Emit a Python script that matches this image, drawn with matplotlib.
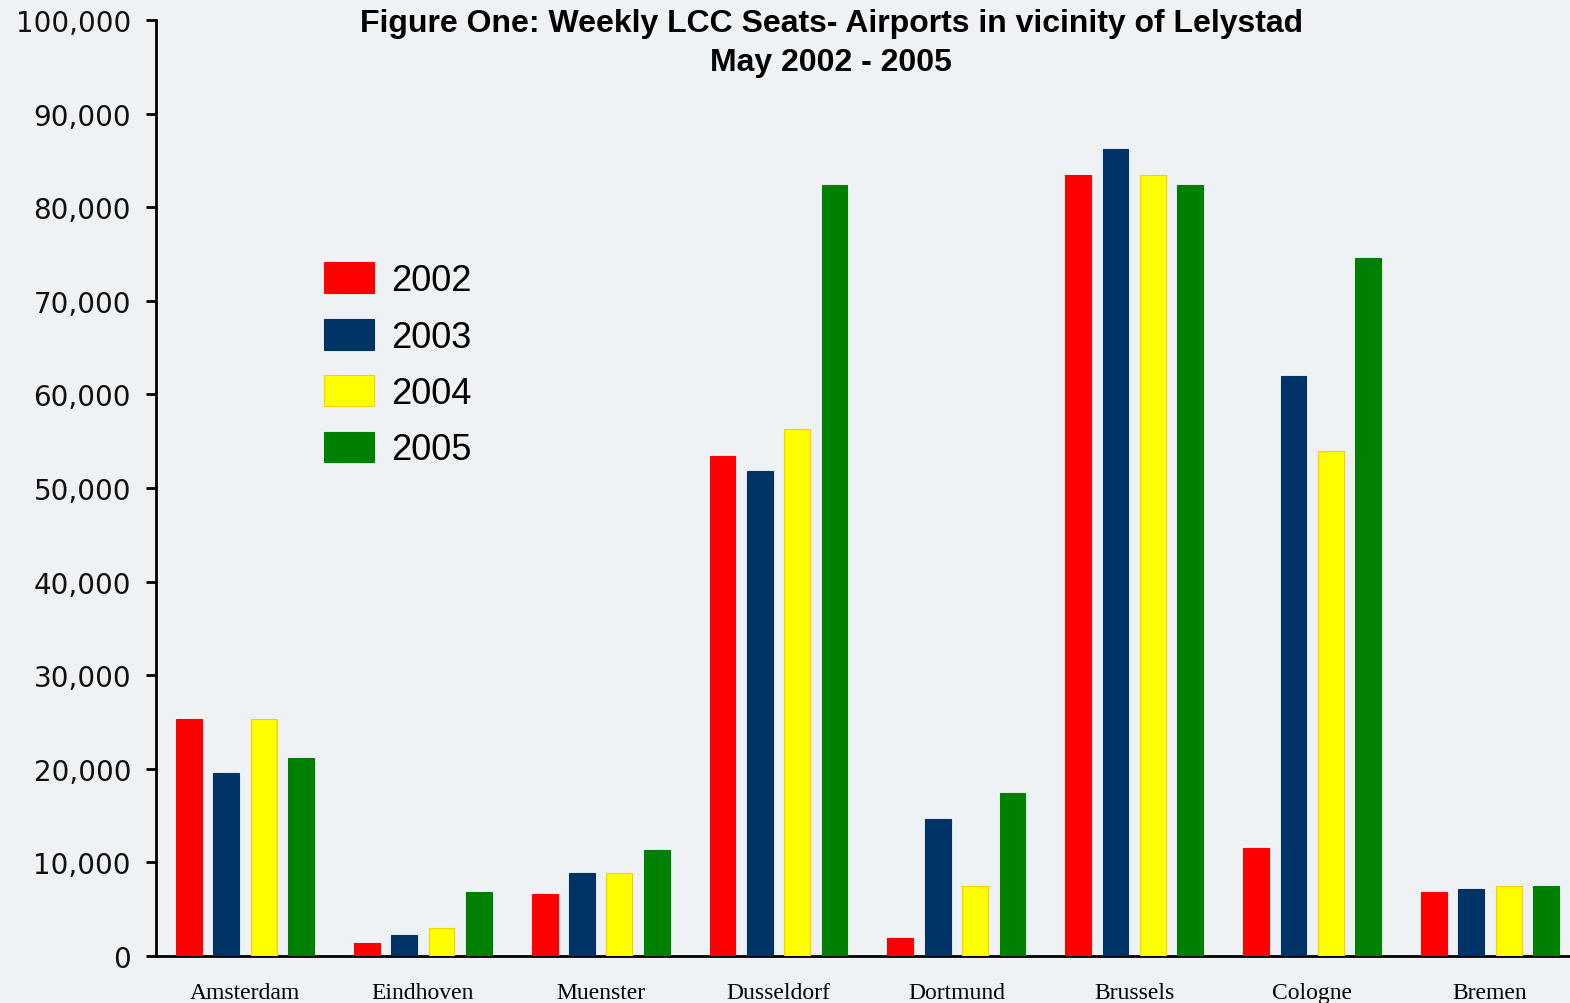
import numpy as np
import matplotlib
matplotlib.use("Agg")
from matplotlib import pyplot as plt
import matplotlib.ticker as ticker

# Weekly LCC seats, airports near Lelystad, May 2002-2005
airports = ["Amsterdam", "Eindhoven", "Muenster", "Dusseldorf",
            "Dortmund", "Brussels", "Cologne", "Bremen"]
years = ["2002", "2003", "2004", "2005"]

seats_2002 = [25300, 1400, 6600, 53400, 1900, 83400, 11500, 6800]
seats_2003 = [19500, 2200, 8900, 51800, 14600, 86200, 62000, 7200]
seats_2004 = [25300, 3000, 8900, 56300, 7500, 83400, 54000, 7500]
seats_2005 = [21200, 6800, 11300, 82400, 17400, 82400, 74600, 7500]

colors = ["#ff0000", "#003366", "#ffff00", "#008000"]
edges = ["#ff0000", "#003366", "#ffcc00", "#008000"]

bg = "#eff2f5"
fig = plt.figure(figsize=(15.70, 10.04), dpi=100, facecolor=bg)
ax = fig.add_axes([156 / 1570, 47 / 1004, 1 - 156 / 1570, 936 / 1004])
ax.set_facecolor(bg)

x = np.arange(len(airports))
offsets = [-0.315, -0.105, 0.105, 0.315]
series = [seats_2002, seats_2003, seats_2004, seats_2005]
for i, vals in enumerate(series):
    ax.bar(x + offsets[i], vals, width=0.145, color=colors[i],
           edgecolor=edges[i], linewidth=0.8, label=years[i], zorder=3)

ax.set_xlim(-0.5, 7.45)
ax.set_ylim(0, 100000)
ax.set_yticks(np.arange(0, 100001, 10000))
ax.yaxis.set_major_formatter(ticker.FuncFormatter(lambda v, p: f"{int(v):,}"))
ax.set_xticks(x)
ax.set_xticklabels(airports, family="Liberation Serif", fontsize=17)

for s in ["top", "right"]:
    ax.spines[s].set_visible(False)
for s in ["left", "bottom"]:
    ax.spines[s].set_linewidth(2)

ax.tick_params(axis="y", length=7, width=2, pad=11, labelsize=20, labelcolor="#111111")
ax.tick_params(axis="x", length=0, pad=19)

leg = ax.legend(loc="upper left", bbox_to_anchor=(0.096, 0.776), frameon=False,
                prop={"family": "Liberation Sans", "size": 26},
                handlelength=1.39, handleheight=0.94, handletextpad=0.45,
                labelspacing=0.57)

fig.text(831 / 1570, 1 - 9 / 1004,
         "Figure One: Weekly LCC Seats- Airports in vicinity of Lelystad\nMay 2002 - 2005",
         ha="center", va="top", fontsize=23, fontweight="bold",
         family="Liberation Sans", linespacing=1.4)

fig.savefig("out.png", dpi=100, facecolor=bg)
